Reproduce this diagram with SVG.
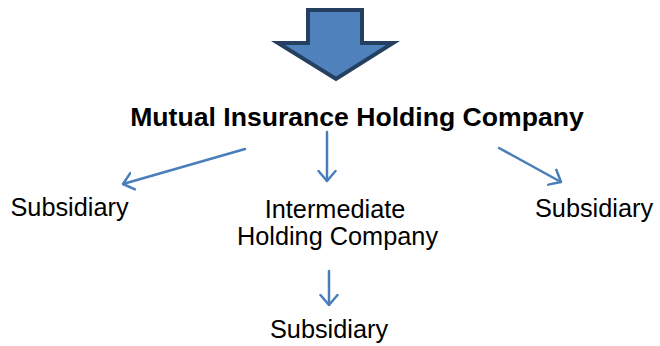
<svg xmlns="http://www.w3.org/2000/svg" width="660" height="346" viewBox="0 0 660 346">
<style>
.t{font-family:"Liberation Sans",Arial,sans-serif;font-size:25.3px;fill:#000;text-anchor:middle}
.b{font-weight:bold;font-size:26.6px}
.c{stroke:#4A7EBB;stroke-width:2.5;fill:none;stroke-linecap:round;stroke-linejoin:round}
</style>
<defs>
<marker id="ah" viewBox="0 0 12 20" refX="11" refY="10" markerWidth="12" markerHeight="20" markerUnits="userSpaceOnUse" orient="auto">
<path d="M1,1.5 L11,10 L1,18.5" fill="none" stroke="#4A7EBB" stroke-width="2.5" stroke-linecap="round" stroke-linejoin="round"/>
</marker>
</defs>
<rect width="660" height="346" fill="#fff"/>
<g id="block-arrow">
<path d="M308,10 L362,10 L362,43 L393,43 L336,79 L278,43 L308,43 Z" fill="#4F81BD" stroke="#243F60" stroke-width="4" stroke-linejoin="miter"/>
</g>
<g id="mihc"><text class="t b" x="357" y="126">Mutual Insurance Holding Company</text></g>
<g id="sub-left"><text class="t" x="69.5" y="216">Subsidiary</text></g>
<g id="ihc"><text class="t" x="335" y="218">Intermediate</text><text class="t" x="337.5" y="245">Holding Company</text></g>
<g id="sub-right"><text class="t" x="594" y="217">Subsidiary</text></g>
<g id="sub-bottom"><text class="t" x="329" y="338">Subsidiary</text></g>
<g id="connectors">
<line class="c" x1="245" y1="149" x2="123" y2="184" marker-end="url(#ah)"/>
<line class="c" x1="327" y1="132" x2="327" y2="181" marker-end="url(#ah)"/>
<line class="c" x1="499" y1="148" x2="561" y2="182" marker-end="url(#ah)"/>
<line class="c" x1="329" y1="271" x2="329" y2="305" marker-end="url(#ah)"/>
</g>
</svg>
